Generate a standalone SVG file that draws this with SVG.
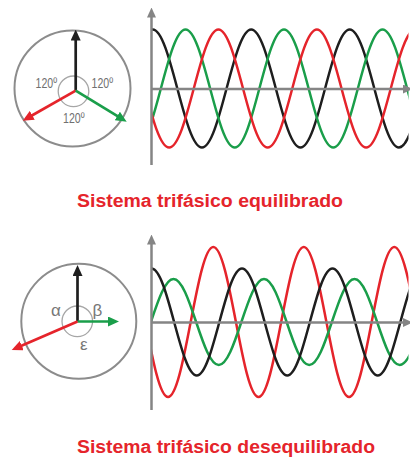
<svg xmlns="http://www.w3.org/2000/svg" xmlns:xlink="http://www.w3.org/1999/xlink" width="410" height="458" viewBox="0 0 410 458">
<style>
.big{fill:none;stroke:#8c8c8c;stroke-width:2}
.small{fill:none;stroke:#a6a6a6;stroke-width:1.3}
.ph{fill:none;stroke-width:2.7}
.axis{fill:none;stroke:#858585;stroke-width:2.5}
.wave{fill:none;stroke-width:2.5;stroke-linejoin:round}
.k{stroke:#1e1e1e}.r{stroke:#e5242b}.g{stroke:#1a9e4a}
.lbl{font-family:"Liberation Sans",Arial,sans-serif;font-size:14px;fill:#707070}
.grk{font-family:"Liberation Sans",Arial,sans-serif;font-size:17px;fill:#777777}
.title{font-family:"Liberation Sans",Arial,sans-serif;font-size:18px;font-weight:bold;fill:#e5242b}
</style>
<defs>
<marker id="mk" markerUnits="userSpaceOnUse" markerWidth="11" markerHeight="10" refX="6" refY="5" orient="auto"><path d="M0,0L11,5L0,10z" fill="#1e1e1e"/></marker>
<marker id="mr" markerUnits="userSpaceOnUse" markerWidth="11" markerHeight="10" refX="6" refY="5" orient="auto"><path d="M0,0L11,5L0,10z" fill="#e5242b"/></marker>
<marker id="mg" markerUnits="userSpaceOnUse" markerWidth="11" markerHeight="10" refX="6" refY="5" orient="auto"><path d="M0,0L11,5L0,10z" fill="#1a9e4a"/></marker>
<marker id="ma" markerUnits="userSpaceOnUse" markerWidth="10" markerHeight="9" refX="5" refY="4.5" orient="auto"><path d="M0,0L10,4.5L0,9z" fill="#858585"/></marker>
<clipPath id="clipTop"><rect x="152" y="0" width="256.5" height="170"/></clipPath>
<clipPath id="clipBot"><rect x="152" y="230" width="256.5" height="180"/></clipPath>
<path id="waveTop" d="M0,29.5
c8.91,0 16.59,28.77 24.625,59 c8.03,30.23 15.71,59 24.625,59 c8.91,0 16.59,-28.77 24.625,-59 c8.03,-30.23 15.71,-59 24.625,-59
c8.91,0 16.59,28.77 24.625,59 c8.03,30.23 15.71,59 24.625,59 c8.91,0 16.59,-28.77 24.625,-59 c8.03,-30.23 15.71,-59 24.625,-59
c8.91,0 16.59,28.77 24.625,59 c8.03,30.23 15.71,59 24.625,59 c8.91,0 16.59,-28.77 24.625,-59 c8.03,-30.23 15.71,-59 24.625,-59
c8.91,0 16.59,28.77 24.625,59 c8.03,30.23 15.71,59 24.625,59 c8.91,0 16.59,-28.77 24.625,-59 c8.03,-30.23 15.71,-59 24.625,-59
c8.91,0 16.59,28.77 24.625,59 c8.03,30.23 15.71,59 24.625,59 c8.91,0 16.59,-28.77 24.625,-59 c8.03,-30.23 15.71,-59 24.625,-59"/>
</defs>

<g id="phasor-balanced">
<circle class="big" cx="72.5" cy="88.5" r="58"/>
<circle class="small" cx="73.5" cy="91.3" r="15.3"/>
<text class="lbl" x="35.5" y="87.5" textLength="21.5" lengthAdjust="spacingAndGlyphs">120º</text>
<text class="lbl" x="91.5" y="87.5" textLength="21.5" lengthAdjust="spacingAndGlyphs">120º</text>
<text class="lbl" x="63" y="122.5" textLength="21.5" lengthAdjust="spacingAndGlyphs">120º</text>
</g>

<g id="phasor-unbalanced">
<circle class="big" cx="78.8" cy="321.3" r="57.5"/>
<circle class="small" cx="77.3" cy="321.3" r="15.3"/>
<text class="grk" x="51" y="316">α</text>
<text class="grk" x="92.5" y="316">β</text>
<text class="grk" x="80" y="350">ε</text>
</g>

<g id="waves-balanced" clip-path="url(#clipTop)">
<use xlink:href="#waveTop" href="#waveTop" class="wave k" transform="translate(54.2,0)"/>
<use xlink:href="#waveTop" href="#waveTop" class="wave g" transform="translate(87,0)"/>
<use xlink:href="#waveTop" href="#waveTop" class="wave r" transform="translate(119.9,0)"/>
</g>

<g id="waves-unbalanced" clip-path="url(#clipBot)">
<path class="wave r" d="M122.8,247
c8.19,0 15.25,36.58 22.625,75 c7.38,38.42 14.44,75 22.625,75 c8.19,0 15.25,-36.58 22.625,-75 c7.38,-38.42 14.44,-75 22.625,-75
c8.19,0 15.25,36.58 22.625,75 c7.38,38.42 14.44,75 22.625,75 c8.19,0 15.25,-36.58 22.625,-75 c7.38,-38.42 14.44,-75 22.625,-75
c8.19,0 15.25,36.58 22.625,75 c7.38,38.42 14.44,75 22.625,75 c8.19,0 15.25,-36.58 22.625,-75 c7.38,-38.42 14.44,-75 22.625,-75
c8.19,0 15.25,36.58 22.625,75 c7.38,38.42 14.44,75 22.625,75 c8.19,0 15.25,-36.58 22.625,-75 c7.38,-38.42 14.44,-75 22.625,-75"/>
<path class="wave g" d="M83,279
c8.19,0 15.25,20.97 22.625,43 c7.38,22.03 14.44,43 22.625,43 c8.19,0 15.25,-20.97 22.625,-43 c7.38,-22.03 14.44,-43 22.625,-43
c8.19,0 15.25,20.97 22.625,43 c7.38,22.03 14.44,43 22.625,43 c8.19,0 15.25,-20.97 22.625,-43 c7.38,-22.03 14.44,-43 22.625,-43
c8.19,0 15.25,20.97 22.625,43 c7.38,22.03 14.44,43 22.625,43 c8.19,0 15.25,-20.97 22.625,-43 c7.38,-22.03 14.44,-43 22.625,-43
c8.19,0 15.25,20.97 22.625,43 c7.38,22.03 14.44,43 22.625,43 c8.19,0 15.25,-20.97 22.625,-43 c7.38,-22.03 14.44,-43 22.625,-43"/>
<path class="wave k" d="M61,268.5
c8.19,0 15.25,26.09 22.625,53.5 c7.38,27.41 14.44,53.5 22.625,53.5 c8.19,0 15.25,-26.09 22.625,-53.5 c7.38,-27.41 14.44,-53.5 22.625,-53.5
c8.19,0 15.25,26.09 22.625,53.5 c7.38,27.41 14.44,53.5 22.625,53.5 c8.19,0 15.25,-26.09 22.625,-53.5 c7.38,-27.41 14.44,-53.5 22.625,-53.5
c8.19,0 15.25,26.09 22.625,53.5 c7.38,27.41 14.44,53.5 22.625,53.5 c8.19,0 15.25,-26.09 22.625,-53.5 c7.38,-27.41 14.44,-53.5 22.625,-53.5
c8.19,0 15.25,26.09 22.625,53.5 c7.38,27.41 14.44,53.5 22.625,53.5 c8.19,0 15.25,-26.09 22.625,-53.5 c7.38,-27.41 14.44,-53.5 22.625,-53.5"/>
</g>

<g id="connectors">
<line class="ph k" x1="75.7" y1="90.7" x2="75.7" y2="34.5" marker-end="url(#mk)"/>
<line class="ph r" x1="75.7" y1="90.7" x2="27.05" y2="118.23" marker-end="url(#mr)"/>
<line class="ph g" x1="75.7" y1="90.7" x2="122.43" y2="119.1" marker-end="url(#mg)"/>
<line class="ph k" x1="77.5" y1="321.5" x2="77.5" y2="270" marker-end="url(#mk)"/>
<line class="ph g" x1="77.5" y1="321.5" x2="114" y2="321.5" marker-end="url(#mg)"/>
<line class="ph r" x1="77.5" y1="321.5" x2="16.29" y2="348.01" marker-end="url(#mr)"/>
<line class="axis" x1="151.5" y1="165" x2="151.5" y2="12.5" marker-end="url(#ma)"/>
<line class="axis" x1="151.5" y1="89" x2="408" y2="89" marker-end="url(#ma)"/>
<line class="axis" x1="151.5" y1="410" x2="151.5" y2="239.5" marker-end="url(#ma)"/>
<line class="axis" x1="151.5" y1="322.5" x2="408" y2="322.5" marker-end="url(#ma)"/>
</g>

<g id="titles">
<text class="title" x="77" y="207" textLength="266" lengthAdjust="spacingAndGlyphs">Sistema trifásico equilibrado</text>
<text class="title" x="77" y="452.5" textLength="298" lengthAdjust="spacingAndGlyphs">Sistema trifásico desequilibrado</text>
</g>
</svg>
